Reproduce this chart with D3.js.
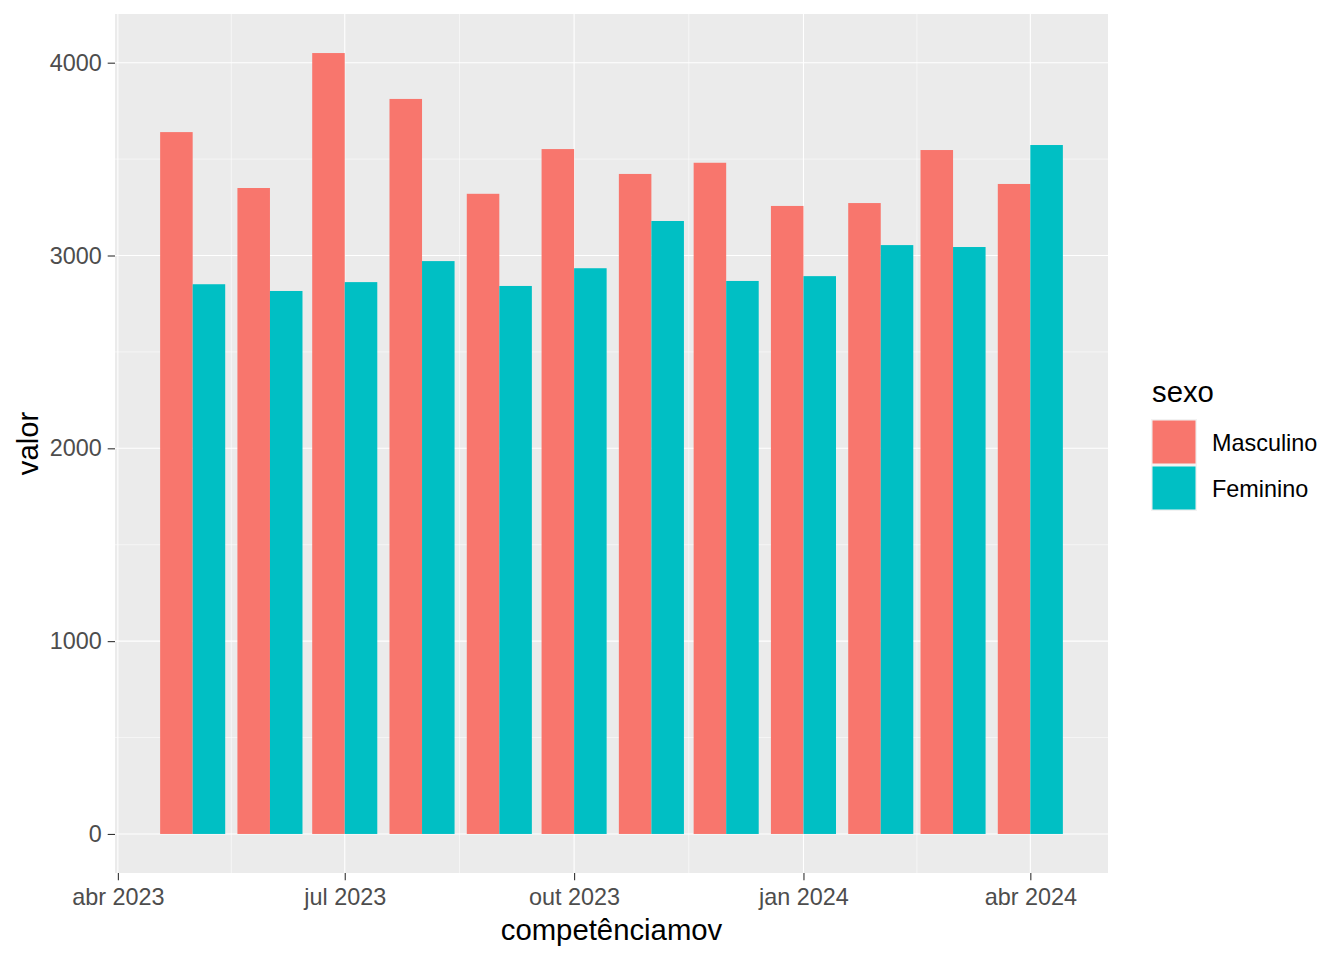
<!DOCTYPE html>
<html>
<head>
<meta charset="utf-8">
<script src="https://cdn.jsdelivr.net/npm/d3@7"></script>
<style>
  body { margin: 0; background: #fff; }
  text { font-family: "Liberation Sans", Arial, sans-serif; }
</style>
</head>
<body>
<svg id="chart"></svg>
<script>
// data
const months = ["2023-05-01","2023-06-01","2023-07-01","2023-08-01","2023-09-01","2023-10-01",
                "2023-11-01","2023-12-01","2024-01-01","2024-02-01","2024-03-01","2024-04-01"];
const masculino = [3640, 3350, 4050, 3812, 3320, 3552, 3423, 3481, 3257, 3272, 3547, 3371];
const feminino  = [2851, 2816, 2862, 2971, 2842, 2934, 3179, 2868, 2893, 3054, 3044, 3573];
const seriesNames = ["Masculino", "Feminino"];
const yTicks = [0, 1000, 2000, 3000, 4000];
const yMinor = [500, 1500, 2500, 3500];
const mesesPt = ["jan","fev","mar","abr","mai","jun","jul","ago","set","out","nov","dez"];

const width = 1344, height = 960;
const margin = {top: 14, right: 236, bottom: 87, left: 115};
const pw = width - margin.left - margin.right;
const ph = height - margin.top - margin.bottom;

const color = d3.scaleOrdinal(seriesNames, ["#F8766D", "#00BFC4"]);

const dates = months.map(d => new Date(d + "T00:00:00Z"));

// bar width like ggplot: 0.9 * smallest gap between dates
const gaps = d3.pairs(dates, (a, b) => b - a);
const dodgeW = 0.9 * d3.min(gaps);
const barW = dodgeW / 2;

const rows = [];
dates.forEach((d, i) => {
  rows.push({date: d, sexo: "Masculino", valor: masculino[i], off: -barW});
  rows.push({date: d, sexo: "Feminino", valor: feminino[i], off: 0});
});

const x0 = +dates[0] - dodgeW / 2, x1 = +dates[dates.length - 1] + dodgeW / 2;
const xPad = (x1 - x0) * 0.05;
const x = d3.scaleUtc()
  .domain([new Date(x0 - xPad), new Date(x1 + xPad)])
  .range([0, pw]);

const yMax = d3.max(rows, d => d.valor);
const y = d3.scaleLinear()
  .domain([-yMax * 0.05, yMax * 1.05])
  .range([ph, 0]);

const svg = d3.select("#chart").attr("width", width).attr("height", height);

const g = svg.append("g").attr("transform", `translate(${margin.left},${margin.top})`);

g.append("rect").attr("width", pw).attr("height", ph).attr("fill", "#EBEBEB");

// x ticks every 3 months, minor in between
const xTicks = d3.utcMonth.every(3).range(new Date("2023-01-01T00:00:00Z"), new Date("2025-01-01T00:00:00Z"))
  .filter(d => x(d) >= 0 && x(d) <= pw);
const xMinor = d3.pairs(xTicks, (a, b) => new Date((+a + +b) / 2));

// grid
g.selectAll(".ymin").data(yMinor).enter().append("line")
  .attr("x1", 0).attr("x2", pw).attr("y1", d => y(d)).attr("y2", d => y(d))
  .attr("stroke", "#fff").attr("stroke-width", 0.55);
g.selectAll(".xmin").data(xMinor).enter().append("line")
  .attr("y1", 0).attr("y2", ph).attr("x1", d => x(d)).attr("x2", d => x(d))
  .attr("stroke", "#fff").attr("stroke-width", 0.55);
g.selectAll(".ymaj").data(yTicks).enter().append("line")
  .attr("x1", 0).attr("x2", pw).attr("y1", d => y(d)).attr("y2", d => y(d))
  .attr("stroke", "#fff").attr("stroke-width", 1.1);
g.selectAll(".xmaj").data(xTicks).enter().append("line")
  .attr("y1", 0).attr("y2", ph).attr("x1", d => x(d)).attr("x2", d => x(d))
  .attr("stroke", "#fff").attr("stroke-width", 1.1);

// bars
g.selectAll(".bar").data(rows).enter().append("rect")
  .attr("x", d => x(new Date(+d.date + d.off)))
  .attr("width", d => x(new Date(+d.date + d.off + barW)) - x(new Date(+d.date + d.off)))
  .attr("y", d => y(d.valor))
  .attr("height", d => y(0) - y(d.valor))
  .attr("fill", d => color(d.sexo));

// axes
const fmt = d => mesesPt[d.getUTCMonth()] + " " + d.getUTCFullYear();
const xAxis = g.append("g").attr("transform", `translate(0,${ph})`)
  .call(d3.axisBottom(x).tickValues(xTicks).tickFormat(fmt).tickSize(7.3).tickPadding(8));
const yAxis = g.append("g")
  .call(d3.axisLeft(y).tickValues(yTicks).tickFormat(d3.format("d")).tickSize(7.3).tickPadding(6));

[xAxis, yAxis].forEach(a => {
  a.select(".domain").remove();
  a.selectAll(".tick line").attr("stroke", "#333333").attr("stroke-width", 1.1);
  a.selectAll(".tick text").attr("fill", "#4D4D4D").style("font-size", "23.4px")
    .style("font-family", "'Liberation Sans', Arial, sans-serif");
});
xAxis.selectAll(".tick text").attr("dy", "0.71em");

// axis titles
svg.append("text")
  .attr("x", margin.left + pw / 2).attr("y", 940)
  .attr("text-anchor", "middle").style("font-size", "29.3px").attr("fill", "#000")
  .text("competênciamov");
svg.append("text")
  .attr("transform", `translate(38,${margin.top + ph / 2}) rotate(-90)`)
  .attr("text-anchor", "middle").style("font-size", "29.3px").attr("fill", "#000")
  .text("valor");

// legend
const lg = svg.append("g").attr("transform", "translate(1151,0)");
lg.append("text").attr("x", 1).attr("y", 402).style("font-size", "29.3px").text("sexo");
const items = lg.selectAll(".li").data(seriesNames).enter().append("g")
  .attr("transform", (d, i) => `translate(0,${419 + i * 46})`);
items.append("rect").attr("width", 46).attr("height", 46).attr("fill", "#F2F2F2");
items.append("rect").attr("x", 1.5).attr("y", 1.5).attr("width", 43).attr("height", 43)
  .attr("fill", d => color(d));
items.append("text").attr("x", 61).attr("y", 24).attr("dy", "0.35em")
  .style("font-size", "23.4px").text(d => d);
</script>
</body>
</html>
